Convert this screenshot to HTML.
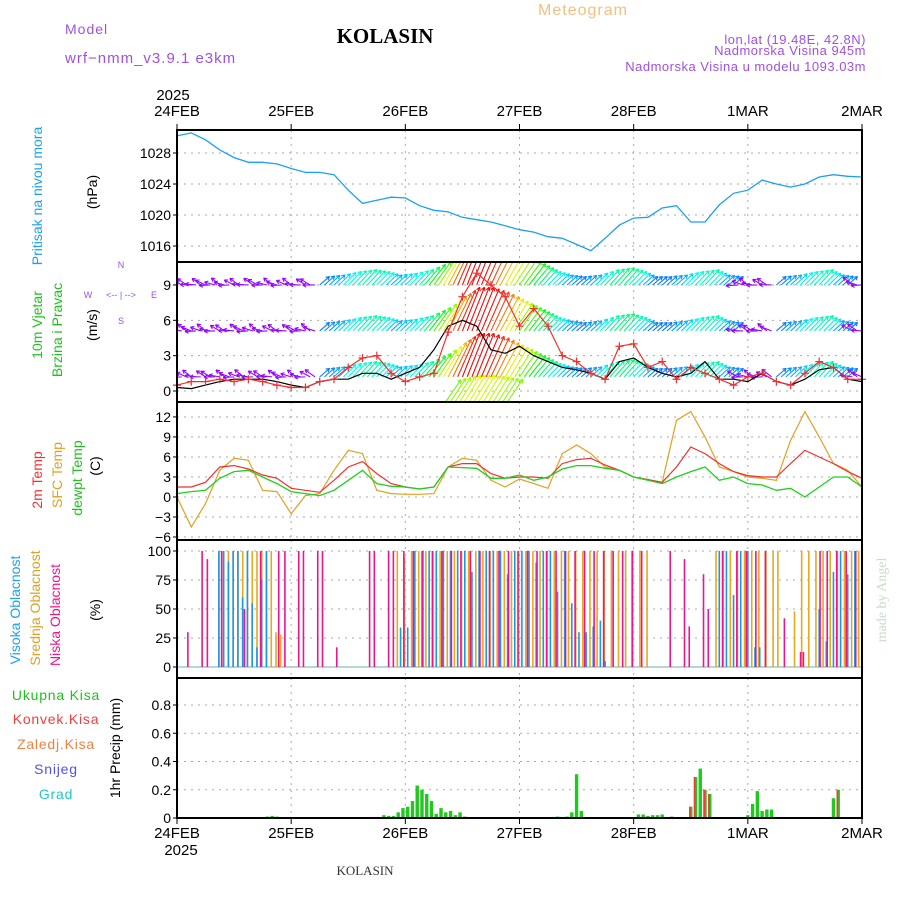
<!DOCTYPE html>
<html><head><meta charset="utf-8"><style>
body{margin:0;background:#fff;}
svg{display:block;font-family:"Liberation Sans",sans-serif;}
</style></head><body>
<svg id="c" width="900" height="900" xmlns="http://www.w3.org/2000/svg">
<text x="65" y="34" font-size="14" fill="#a050e0" letter-spacing="1">Model</text>
<text x="65" y="63" font-size="15" fill="#a050e0" letter-spacing="1">wrf−nmm_v3.9.1  e3km</text>
<text x="385" y="43" font-size="21" font-weight="bold" text-anchor="middle" fill="#000" font-family="Liberation Serif">KOLASIN</text>
<text x="583" y="15" font-size="16" fill="#f0c080" text-anchor="middle" letter-spacing="1">Meteogram</text>
<text x="866" y="44" font-size="13" fill="#a050e0" text-anchor="end" letter-spacing="0.5">lon,lat (19.48E, 42.8N)</text>
<text x="866" y="55" font-size="13" fill="#a050e0" text-anchor="end" letter-spacing="0.5">Nadmorska Visina 945m</text>
<text x="866" y="71" font-size="13" fill="#a050e0" text-anchor="end" letter-spacing="0.5">Nadmorska Visina u modelu 1093.03m</text>
<text x="365" y="875" font-size="13" fill="#333" text-anchor="middle" font-family="Liberation Serif">KOLASIN</text>
<text transform="translate(886,600) rotate(-90)" font-size="14" fill="#c8dcc8" text-anchor="middle" font-family="Liberation Serif">made by Angel</text>
</svg>
<script>
// ---- data (3-hourly, 0..144h from 24FEB 00) ----
const dayLabels=["24FEB","25FEB","26FEB","27FEB","28FEB","1MAR","2MAR"];
const pressure=[1030.2,1030.6,1029.7,1028.4,1027.4,1026.8,1026.8,1026.6,1026,1025.5,1025.5,1025.2,1023.2,1021.5,1021.9,1022.3,1022.2,1021.2,1020.6,1020.4,1019.7,1019.4,1019.1,1018.6,1018.1,1017.8,1017.2,1017.0,1016.2,1015.4,1017.0,1018.7,1019.6,1019.7,1020.9,1021.2,1019.1,1019.1,1021.3,1022.8,1023.2,1024.5,1024,1023.6,1024,1024.9,1025.2,1025,1024.9];
const windSpeed=[0.3,0.2,0.5,0.8,1.0,1.0,1.0,0.8,0.5,0.3,0.8,1.0,1.0,1.5,1.5,1.0,1.5,2.0,3.5,5.5,6.0,5.5,3.5,3.2,3.8,3.0,2.5,2.0,1.8,1.5,1.0,2.5,2.8,2.0,1.5,1.2,1.5,2.5,1.0,1.0,0.8,1.5,0.8,0.5,1.0,1.8,2.0,1.0,0.8];
const windGust=[0.5,0.8,0.8,1.0,0.8,1.0,0.8,0.5,0.3,0.3,0.8,1.0,2.0,2.8,3.0,1.5,0.8,1.2,1.5,5.0,8.0,10.0,9.0,8.0,5.5,7.0,5.5,3.0,2.5,1.5,1.0,3.8,4.0,2.0,2.5,1.0,2.0,1.5,1.0,0.5,1.2,1.5,0.8,0.5,1.5,2.5,2.0,1.0,1.0];
const arrowStrength=[0.1,0.1,0.1,0.1,0.1,0.12,0.1,0.1,0.1,0.1,0.15,0.2,0.3,0.35,0.3,0.2,0.25,0.35,0.55,0.8,1.0,1.0,0.9,0.75,0.6,0.45,0.3,0.2,0.15,0.2,0.35,0.4,0.3,0.15,0.15,0.2,0.3,0.35,0.2,0.15,0.1,0.1,0.15,0.2,0.3,0.35,0.2,0.15,0.1];
const t2m=[1.5,1.5,2.2,4.5,4.7,4.2,3.3,2.8,1.3,1.0,0.7,2.5,4.5,5.3,3.5,2.0,1.5,1.2,1.5,4.5,5.0,5.0,3.5,2.8,3.0,3.0,2.8,5.0,5.6,5.8,4.8,4.0,3.0,2.6,2.2,4.5,7.5,6.5,5.0,3.8,3.2,3.0,3.0,5.0,7.0,6.0,5.0,3.8,2.8];
const tsfc=[0,-4.5,-1,4,5.8,5.5,1.0,0.8,-2.5,0.2,0.5,4,7.0,6.5,1.0,0.5,0.4,0.4,0.5,4.5,5.8,5.5,2.5,1.5,2.7,2.0,1.3,6.5,7.8,6.5,4.5,4.0,3.0,2.6,2.2,11.5,12.8,9.0,4.5,3.8,3.0,2.8,2.5,8.5,12.8,9.0,5.0,4.0,1.5];
const tdew=[0.5,0.8,1.0,2.8,3.8,4.0,3.0,2.0,0.8,0.5,0.2,1.0,2.5,4.0,2.0,1.6,1.5,1.2,1.5,4.5,4.4,4.3,2.8,2.8,3.3,2.5,3.0,4.2,4.7,4.7,4.3,4.0,3.0,2.5,2.0,3.0,3.8,4.5,2.5,3.0,2.0,1.8,1.0,1.3,0,1.5,3.0,3.0,1.5];
// clouds: hour + percent
const lowHours=[2.6,5.6,6.7,9.7,14.5,17.9,21.7,23,25.9,26.9,29.9,30.9,33.9,40.8,41.8,44.8,45.8,48,50,52,54,56,58,60,62,64,66,68,70,72,74,76,78,80,82,84,86,88,90,92,94,96,98,104,107,108,111,112,115,118,120,122,124,128,131.4,132,135.5,137,139,141,143];
const lowPct=[30,100,93,100,50,100,100,100,100,100,100,100,17,100,100,100,100,100,100,100,100,100,100,100,100,100,100,100,100,100,100,100,100,100,100,100,100,100,100,100,100,100,100,100,93,35,80,50,100,100,100,100,100,42,13,13,100,100,100,100,100];
const midHours=[8.5,9.5,10.5,11.5,12.5,13.5,14.5,15.5,16.5,17.5,18.5,19.5,20.5,21.5,46,47.5,49,50.5,52,53.5,55,56.5,58,59.5,61,62.5,64,65.5,67,68.5,70,71.5,73,74.5,76,77.5,79,80.5,82,83.5,85,86.5,88,89.5,91,92.5,94,95.5,97,98.5,113,114.5,116,117.5,119,120.5,122,123.5,125,126,129.5,131,132.5,134,135.5,137,138.5,140,141.5,143];
const midPct=[100,100,100,100,100,100,100,100,100,100,100,100,30,28,100,95,100,100,100,100,100,100,100,100,100,100,100,100,100,100,100,100,100,100,100,100,100,100,100,100,100,100,100,100,100,100,100,100,100,100,100,100,100,100,100,100,100,100,100,100,48,100,100,100,100,100,100,100,100,100];
const highHours=[8.8,9.8,10.8,11.8,12.8,13.8,14.8,15.8,16.8,17.8,18.8,47,48.5,50,51.5,53,54.5,56,57.5,59,60.5,62,63.5,65,66.5,68,69.5,71,72.5,74,75.5,77,78.5,80,81.5,83,84.5,86,87.5,89,90,114,115.5,117,118.5,120,121.5,122.5,135,136.5,138,139.5,141,142.5];
const highPct=[100,100,91,100,100,60,100,55,17,75,100,34,34,100,100,100,100,100,100,100,100,82,100,100,100,100,80,100,100,100,90,100,100,65,100,55,30,30,35,40,5,100,100,62,100,100,17,17,50,22,82,100,80,100];
// precipitation (hourly bars)
const precipHours=[6,18,19,20,21,42.5,43.5,44.5,45.5,46.5,47.5,48.5,49.5,50.5,51.5,52.5,53.5,54.5,55.5,56.5,57.5,58.5,59.5,60.5,61.5,80,81,82,83,84,85,97,98,99,100,101,102,104,105,108,109,110,111,112,119,120,121,122,123,124,125,138,139];
const precipTotal=[0.005,0.005,0.01,0.015,0.01,0.005,0.02,0.015,0.015,0.04,0.07,0.08,0.12,0.23,0.2,0.17,0.12,0.03,0.07,0.04,0.05,0.02,0.04,0.01,0.005,0.01,0.005,0.01,0.04,0.31,0.05,0.025,0.025,0.015,0.02,0.02,0.025,0.01,0.005,0.08,0.29,0.35,0.2,0.17,0.005,0.02,0.1,0.19,0.05,0.06,0.06,0.14,0.2];
const precipConv=[0,0,0,0,0,0,0,0,0,0,0,0,0,0,0,0,0,0,0,0,0,0,0,0,0,0,0,0,0,0,0,0,0,0,0,0,0,0,0,0.08,0.29,0,0.2,0.17,0,0,0,0,0,0,0,0,0.2];

const NS="http://www.w3.org/2000/svg";
const svg=document.getElementById('c');
function mk(tag,attrs,parent){const e=document.createElementNS(NS,tag);for(const k in attrs)e.setAttribute(k,attrs[k]);(parent||svg).appendChild(e);return e;}
const X0=177,X1=862;
const xh=h=>X0+(X1-X0)*h/144;
const panels=[
 {name:'pressure',top:130,bot:262,y:v=>153+(1028-v)*7.75},
 {name:'wind',top:262,bot:402,y:v=>391-v*11.78},
 {name:'temperature',top:402,bot:540,y:v=>537-(v+6)*6.67},
 {name:'cloud',top:540,bot:678,y:v=>667-v*1.16},
 {name:'precip',top:678,bot:818,y:v=>818-v*141.25}
];
function grid(p,ticks,labels){
  const g=mk('g',{});
  
  
  ticks.forEach((t,i)=>{const y=p.y(t);
    if(y>p.top+2&&y<p.bot-2) mk('line',{x1:X0,x2:X1,y1:y,y2:y,stroke:'#aaa','stroke-dasharray':'2,5'},g);
    mk('line',{x1:X0-4,x2:X0,y1:y,y2:y,stroke:'#000'},g);
    const tx=mk('text',{x:X0-6,y:y+5,'font-size':14,'text-anchor':'end',fill:'#000'},g);tx.textContent=labels[i];});
  for(let d=1;d<6;d++){const x=X0+(X1-X0)*d/6;mk('line',{x1:x,x2:x,y1:p.top,y2:p.bot,stroke:'#aaa','stroke-dasharray':'2,5'},g);}
}
grid(panels[0],[1016,1020,1024,1028],['1016','1020','1024','1028']);
grid(panels[1],[0,3,6,9],['0','3','6','9']);
grid(panels[2],[-6,-3,0,3,6,9,12],['−6','−3','0','3','6','9','12']);
grid(panels[3],[0,25,50,75,100],['0','25','50','75','100']);
grid(panels[4],[0,0.2,0.4,0.6,0.8],['0','0.2','0.4','0.6','0.8']);

function line(p,arr,color,name,w){
  const d=arr.map((v,i)=>(i?'L':'M')+xh(i*3).toFixed(1)+','+p.y(v).toFixed(1)).join('');
  const e=mk('path',{d:d,fill:'none',stroke:color,'stroke-width':w||1.3});
  
  
  return e;
}
// pressure
line(panels[0],pressure,'#1ea0f0','pressure-line',1.3);

// wind arrows
const clip=mk('clipPath',{id:'wclip'});mk('rect',{x:X0,y:262,width:X1-X0,height:140},clip);
const wg=mk('g',{'clip-path':'url(#wclip)'});


const levelBase=[1.2,5.1,9.0];
function drawArrow(x,y,s,li,k){
  const len=7+40*s;
  let ang;
  if(s<0.15) ang=Math.PI*(0.9+0.12*Math.sin(k*1.7+li));
  else ang=Math.PI*(0.2+0.18*s);
  const dx=Math.cos(ang)*len,dy=-Math.sin(ang)*len;
  const hue=s<0.15?275:Math.max(0,250-260*s);
  const col='hsl('+hue+',95%,50%)';
  const a=mk('line',{x1:x,y1:y,x2:x+dx,y2:y+dy,stroke:col,'stroke-width':1.1},wg);
  
  
  const ha=Math.atan2(dy,dx);
  mk('path',{d:`M${x+dx},${y+dy}l${-4*Math.cos(ha-0.5)},${-4*Math.sin(ha-0.5)}M${x+dx},${y+dy}l${-4*Math.cos(ha+0.5)},${-4*Math.sin(ha+0.5)}`,stroke:col,'stroke-width':1.1,fill:'none'},wg);
}
let k=0;
for(let h=0;h<=144;h+=1){
  const i=Math.min(47,Math.floor(h/3)),f=(h-i*3)/3;
  const s=arrowStrength[i]*(1-f)+arrowStrength[i+1]*f;
  levelBase.forEach((b,li)=>drawArrow(xh(h),panels[1].y(b),s,li,k));
  if(s>0.7) drawArrow(xh(h),panels[1].y(-1.2),s*0.35+0.35,3,k);
  k++;
}
line(panels[1],windSpeed,'#000','wind-speed-line',1.2);
line(panels[1],windGust,'#f03030','wind-gust-line',1.2);
windGust.forEach((v,i)=>{const x=xh(i*3),y=panels[1].y(v);
  const m=mk('path',{d:`M${x-4},${y}h8M${x},${y-4}v8`,stroke:'#f03030','stroke-width':1.2});
  
  });

// temperature
line(panels[2],tsfc,'#e0a020','sfc-temp-line',1.2);
line(panels[2],t2m,'#f03030','temp-2m-line',1.2);
line(panels[2],tdew,'#20d020','dewpoint-line',1.3);

// clouds
const p3=panels[3];
mk('line',{x1:X0,x2:X1,y1:p3.y(0),y2:p3.y(0),stroke:'#9cc',"stroke-width":1.5});
function bars(hours,vals,col,off,name){hours.forEach((h,i)=>{const x=xh(h)+off;
  const b=mk('line',{x1:x,x2:x,y1:p3.y(0),y2:p3.y(vals[i]),stroke:col,'stroke-width':1.6});
  
  });}
bars(midHours,midPct,'#e8a820',1.5,'mid-cloud-bar');
bars(highHours,highPct,'#1e96e8',0,'high-cloud-bar');
bars(lowHours,lowPct,'#f0148c',-1.5,'low-cloud-bar');

// precip
const p4=panels[4];
precipHours.forEach((h,i)=>{const x=xh(h);
  const b=mk('rect',{x:x-1.7,y:p4.y(precipTotal[i]),width:3.4,height:p4.y(0)-p4.y(precipTotal[i]),fill:'#20c820'});
  
  
  if(precipConv[i]>0){const c=mk('rect',{x:x-1.7,y:p4.y(precipConv[i]),width:1.7,height:p4.y(0)-p4.y(precipConv[i]),fill:'#f03c3c'});
  
  }
});

// panel frames
panels.forEach(p=>{const r=mk('rect',{x:X0,y:p.top,width:X1-X0,height:p.bot-p.top,fill:'none',stroke:'#000','stroke-width':2});
  
  });
// x axes
const xa=mk('g',{});


dayLabels.forEach((d,i)=>{const x=X0+(X1-X0)*i/6;
  mk('line',{x1:x,x2:x,y1:124,y2:130,stroke:'#000'},xa);
  mk('line',{x1:x,x2:x,y1:818,y2:824,stroke:'#000'},xa);
  let t=mk('text',{x:x,y:116,'font-size':15,'text-anchor':'middle'},xa);t.textContent=d;
  t=mk('text',{x:x,y:838,'font-size':15,'text-anchor':'middle'},xa);t.textContent=d;});
let t=mk('text',{x:173,y:100,'font-size':15,'text-anchor':'middle'},xa);t.textContent='2025';
t=mk('text',{x:181,y:855,'font-size':15,'text-anchor':'middle'},xa);t.textContent='2025';

// left titles
function vt(x,y,txt,col,name){const e=mk('text',{transform:`translate(${x},${y}) rotate(-90)`,'font-size':14,'text-anchor':'middle',fill:col});e.textContent=txt;
  }
vt(42,196,'Pritisak na nivou mora','#1ea0f0','pressure-title');
vt(97,192,'(hPa)','#000','pressure-unit');
vt(42,325,'10m Vjetar','#20c020','wind-title-1');
vt(62,330,'Brzina i Pravac','#20c020','wind-title-2');
vt(97,325,'(m/s)','#000','wind-unit');
vt(42,480,'2m Temp','#f03030','temp-title');
vt(62,475,'SFC Temp','#e0a020','sfc-temp-title');
vt(82,478,'dewpt Temp','#20c020','dewpt-title');
vt(100,466,'(C)','#000','temp-unit');
vt(20,610,'Visoka Oblacnost','#1ea0f0','high-cloud-title');
vt(40,608,'Srednja Oblacnost','#e0a020','mid-cloud-title');
vt(60,615,'Niska Oblacnost','#f0148c','low-cloud-title');
vt(100,610,'(%)','#000','cloud-unit');
vt(120,748,'1hr Precip (mm)','#000','precip-unit');
[['Ukupna Kisa','#20c020',700],['Konvek.Kisa','#f03c3c',724],['Zaledj.Kisa','#f08040',749],['Snijeg','#5050f0',774],['Grad','#20c8c8',799]].forEach(a=>{
  const e=mk('text',{x:56,y:a[2],'font-size':14,'text-anchor':'middle',fill:a[1],'letter-spacing':0.8});e.textContent=a[0];
  });
// compass
const cg=mk('g',{fill:'#a050e0','font-size':9});


[['W',88,298],['E',154,298],['N',121,268],['S',121,324],['<-- | -->',121,298]].forEach(a=>{const e=mk('text',{x:a[1],y:a[2],'text-anchor':'middle'},cg);e.textContent=a[0];});
</script>
</body></html>
